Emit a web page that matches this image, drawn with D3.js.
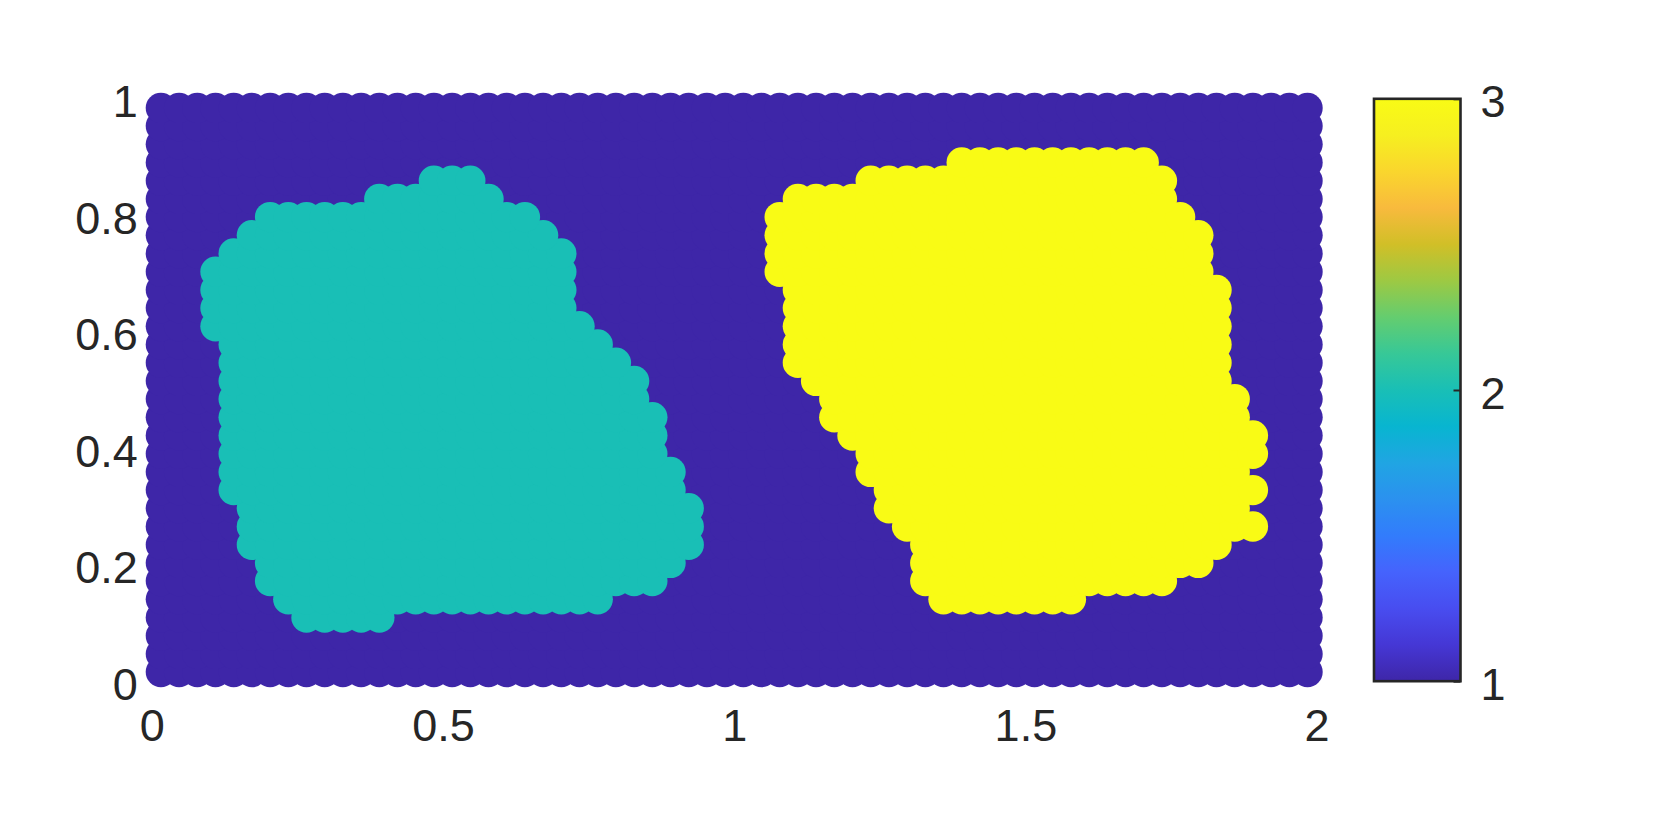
<!DOCTYPE html>
<html>
<head>
<meta charset="utf-8">
<script src="https://cdn.jsdelivr.net/npm/d3@7"></script>
<style>
  body { margin: 0; background: #fff; }
  svg { display: block; }
  .tick text { font-family: "Liberation Sans", Arial, sans-serif; font-size: 45px; fill: #262626; }
</style>
</head>
<body>
<div id="chart"></div>
<script>
// tick labels
var xTicks = [0, 0.5, 1, 1.5, 2];
var yTicks = [0, 0.2, 0.4, 0.6, 0.8, 1];
var cTicks = [1, 2, 3];

// particle grid: 64 columns over x in [0,2], 32 rows over y in [0,1]
var nCols = 64, nRows = 32;

// region 2 (teal): [row, first column, last column]
var region2 = [
  [3, 8, 12], [4, 7, 24], [5, 6, 27], [6, 6, 28], [7, 5, 29], [8, 5, 29],
  [9, 5, 29], [10, 4, 28], [11, 4, 28], [12, 4, 27], [13, 4, 27], [14, 4, 27],
  [15, 4, 26], [16, 4, 26], [17, 4, 25], [18, 4, 24], [19, 3, 23], [20, 3, 22],
  [21, 3, 22], [22, 3, 22], [23, 4, 22], [24, 5, 21], [25, 6, 20], [26, 12, 18],
  [27, 15, 17]
];

// region 3 (yellow): [row, first column, last column]
var region3 = [
  [4, 43, 50], [5, 42, 55], [6, 42, 57], [7, 42, 58], [8, 41, 60], [9, 40, 59],
  [10, 40, 60], [11, 39, 59], [12, 39, 60], [13, 38, 60], [14, 37, 59], [15, 37, 59],
  [16, 36, 58], [17, 35, 58], [18, 35, 58], [19, 35, 58], [20, 35, 58], [21, 35, 58],
  [22, 34, 57], [23, 34, 57], [24, 34, 57], [25, 34, 56], [26, 35, 55], [27, 39, 55],
  [28, 44, 54]
];

// parula colormap samples
var parula = ["#3e26a8", "#4537d5", "#484df0", "#4563fd", "#327cfc", "#2b91ef",
  "#20a5e3", "#08b5d0", "#19bfb6", "#37c897", "#64cd6f", "#9dc943", "#d1bf27",
  "#f8ba3d", "#fad62d", "#f6ef20", "#f9fb15"];

var width = 1661, height = 830;

var svg = d3.select("#chart").append("svg")
  .attr("width", width)
  .attr("height", height);

var x = d3.scaleLinear().domain([0, 2]).range([151.8, 1316.6]);
var y = d3.scaleLinear().domain([0, 1]).range([681.2, 98.8]);
var cy = d3.scaleLinear().domain([1, 3]).range([681.2, 98.8]);

var color = d3.scaleLinear()
  .domain(parula.map(function (d, i) { return 1 + 2 * i / (parula.length - 1); }))
  .range(parula)
  .interpolate(d3.interpolateRgb);

// value of every particle, 1 by default
var value = {};
region2.forEach(function (r) {
  for (var i = r[1]; i <= r[2]; i++) value[r[0] + "_" + i] = 2;
});
region3.forEach(function (r) {
  for (var i = r[1]; i <= r[2]; i++) value[r[0] + "_" + i] = 3;
});

var particles = [];
for (var j = 0; j < nRows; j++) {
  for (var i = 0; i < nCols; i++) {
    particles.push({
      x: (i + 0.5) / 32,
      y: (j + 0.5) / 32,
      v: value[j + "_" + i] || 1
    });
  }
}
particles.sort(function (a, b) { return a.v - b.v; });

// axes sit under the markers
var xAxis = svg.append("g")
  .attr("transform", "translate(0," + y(0) + ")")
  .call(d3.axisBottom(x).tickValues(xTicks).tickFormat(function (d) { return String(d); })
    .tickSizeInner(-12).tickSizeOuter(0).tickPadding(28));
var yAxis = svg.append("g")
  .attr("transform", "translate(" + x(0) + ",0)")
  .call(d3.axisLeft(y).tickValues(yTicks).tickFormat(function (d) { return String(d); })
    .tickSizeInner(-12).tickSizeOuter(0).tickPadding(14));
yAxis.selectAll(".tick text").attr("dy", "0.4em");
svg.selectAll(".domain, .tick line").attr("stroke", "#262626");

svg.append("g").selectAll("circle")
  .data(particles)
  .enter().append("circle")
  .attr("cx", function (d) { return x(d.x); })
  .attr("cy", function (d) { return y(d.y); })
  .attr("r", 15.2)
  .attr("fill", function (d) { return color(d.v); });

// colorbar
var grad = svg.append("defs").append("linearGradient")
  .attr("id", "parula")
  .attr("x1", 0).attr("y1", 1).attr("x2", 0).attr("y2", 0);
grad.selectAll("stop")
  .data(parula)
  .enter().append("stop")
  .attr("offset", function (d, i) { return i / (parula.length - 1); })
  .attr("stop-color", function (d) { return d; });

var cbLeft = 1374, cbRight = 1460.5;
svg.append("rect")
  .attr("x", cbLeft)
  .attr("y", cy(3))
  .attr("width", cbRight - cbLeft)
  .attr("height", cy(1) - cy(3))
  .attr("fill", "url(#parula)")
  .attr("stroke", "#262626")
  .attr("stroke-width", 2.6);

var cAxis = svg.append("g")
  .attr("transform", "translate(" + cbRight + ",0)")
  .call(d3.axisRight(cy).tickValues(cTicks).tickFormat(function (d) { return String(d); })
    .tickSizeInner(-7).tickSizeOuter(0).tickPadding(20));
cAxis.select(".domain").remove();
cAxis.selectAll(".tick line").attr("stroke", "#262626").attr("stroke-width", 2);
cAxis.selectAll(".tick text").attr("dy", "0.4em");
</script>
</body>
</html>
